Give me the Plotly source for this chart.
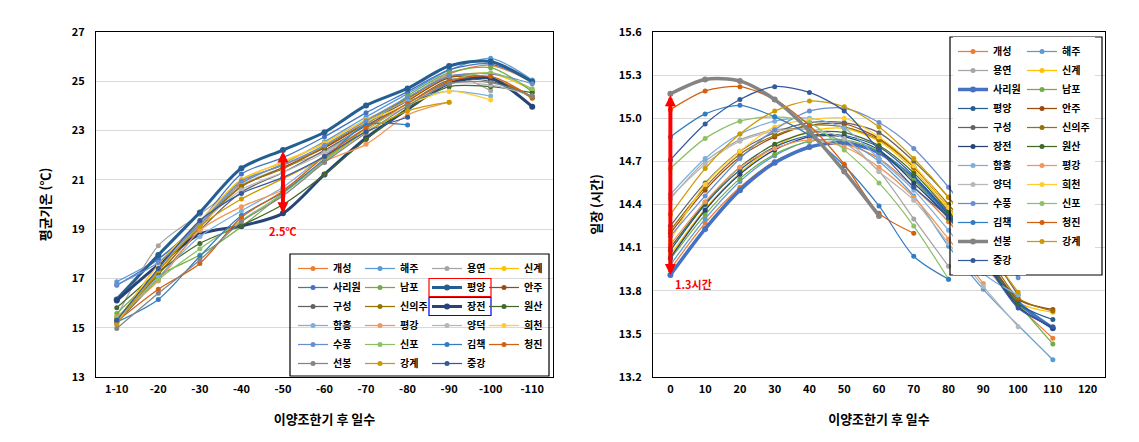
import plotly.graph_objects as go

# ---------------- data ----------------
stations = ['개성', '해주', '용연', '신계', '사리원', '남포', '평양', '안주', '구성', '신의주', '장전', '원산',
            '함흥', '평강', '양덕', '희천', '수풍', '신포', '김책', '청진', '선봉', '강계', '중강']
colors = ['#ED7D31', '#5B9BD5', '#A5A5A5', '#FFC000', '#4472C4', '#70AD47', '#255E91', '#9E480E',
          '#636363', '#997300', '#264478', '#43682B', '#7CAFDD', '#F1975A', '#B7B7B7', '#FFCD33',
          '#698ED0', '#8CC168', '#327DC2', '#D26012', '#848484', '#CC9A00', '#335AA1']

temp_categories = ['1-10', '-20', '-30', '-40', '-50', '-60', '-70', '-80', '-90', '-100', '-110']

temp_gaeseong = [15.35, 17.2, 19.05, 20.9, 21.6, 22.3, 23.3, 24.3, 25.3, 25.65, 24.95]
temp_haeju = [16.87, 17.8, 19.2, 20.85, 21.65, 22.55, 23.55, 24.5, 25.45, 25.93, 25.05]
temp_yongyeon = [15.45, 18.33, 19.6, 20.8, 21.5, 22.15, 23.25, 24.3, 25.25, 24.62, None]
temp_singye = [15.25, 17.58, 19.3, 21.02, 21.7, 22.5, 23.45, 24.25, 25.15, 25.32, 24.65]
temp_sariwon = [16.72, 17.78, 19.3, 21.24, 21.9, 22.75, 23.72, 24.58, 25.46, 25.7, 25.0]
temp_nampo = [15.58, 17.1, 17.95, 19.1, 20.45, 21.8, 23.1, 24.4, 25.35, 25.55, 24.58]
temp_pyongyang = [16.15, 17.95, 19.68, 21.47, 22.21, 22.93, 24.02, 24.71, 25.62, 25.8, 24.98]
temp_anju = [15.35, 17.3, 19.15, 20.72, 21.5, 22.3, 23.3, 24.2, 25.15, 25.1, 24.35]
temp_guseong = [15.2, 17.0, 18.95, 20.5, 21.3, 22.2, 23.2, 24.1, 25.05, 25.0, 24.38]
temp_sinuiju = [15.3, 17.15, 19.1, 20.75, 21.45, 22.35, 23.35, 24.3, 25.2, 25.15, 24.31]
temp_jangjeon = [16.1, 17.55, 18.8, 19.13, 19.64, 21.22, 22.7, 23.87, 24.92, 25.12, 23.97]
temp_wonsan = [15.81, 17.25, 18.42, 19.15, 20.0, 21.22, 22.64, 23.9, 24.78, 24.78, 24.54]
temp_hamheung = [15.3, 17.05, 18.7, 19.74, 20.7, 22.0, 23.3, 24.2, 24.6, 24.4, None]
temp_pyeonggang = [15.45, 16.9, 18.95, 19.91, 20.6, 21.74, 22.44, 23.63, 24.15, None, None]
temp_yangdeok = [15.1, 17.4, 19.15, 20.6, 21.3, 22.1, 23.1, 24.0, 24.9, 24.85, 24.4]
temp_huicheon = [15.2, 17.55, 19.35, 20.95, 21.75, 22.45, 23.35, 24.05, 24.6, 24.24, None]
temp_supung = [16.75, 17.65, 19.2, 20.95, 21.6, 22.4, 23.4, 24.35, 25.2, 25.3, 24.9]
temp_sinpo = [15.4, 16.95, 18.2, 19.35, 20.45, 21.75, 23.0, 24.1, 25.0, 25.35, 24.7]
temp_gimchaek = [15.23, 16.15, 17.9, 19.55, 20.5, 21.85, 23.23, 23.23, None, None, None]
temp_cheongjin = [15.25, 16.56, 17.61, 19.48, 20.55, 21.95, 23.1, 24.1, 25.0, 25.2, 24.35]
temp_seonbong = [14.97, 16.4, 17.75, 19.3, 20.35, 21.7, 22.9, 24.0, 24.9, 24.95, 24.4]
temp_ganggye = [15.15, 17.3, 19.1, 20.22, 21.05, 21.9, 22.95, 23.8, 24.15, None, None]
temp_junggang = [15.3, 17.4, 19.35, 20.45, 21.1, 21.95, 22.95, 23.54, None, None, None]

day_x = [0, 10, 20, 30, 40, 50, 60, 70, 80, 90, 100, 110]

day_gaeseong = [13.95, 14.27, 14.52, 14.70, 14.80, 14.82, 14.72, 14.52, 14.28, 13.99, 13.70, 13.47]
day_haeju = [13.98, 14.30, 14.56, 14.74, 14.84, 14.84, 14.70, 14.46, 14.11, 13.81, None, 13.32]
day_yongyeon = [14.44, 14.70, 14.85, 14.92, 14.92, 14.83, 14.63, 14.30, 13.97, None, None, None]
day_singye = [14.05, 14.37, 14.62, 14.80, 14.91, 14.93, 14.84, 14.64, 14.36, 14.05, 13.72, 13.65]
day_sariwon = [13.91, 14.23, 14.50, 14.69, 14.80, 14.83, 14.76, 14.58, 14.33, 14.03, 13.72, 13.54]
day_nampo = [14.02, 14.33, 14.58, 14.75, 14.84, 14.85, 14.77, 14.57, 14.30, 14.02, 13.71, 13.43]
day_pyongyang = [14.08, 14.40, 14.64, 14.80, 14.88, 14.88, 14.80, 14.60, 14.33, 14.03, 13.71, 13.60]
day_anju = [14.20, 14.50, 14.73, 14.87, 14.95, 14.96, 14.86, 14.66, 14.38, 14.07, 13.74, 13.67]
day_guseong = [14.25, 14.55, 14.77, 14.90, 14.97, 14.97, 14.90, 14.70, 14.45, 14.13, 13.77, None]
day_sinuiju = [14.22, 14.52, 14.75, 14.88, 14.95, 14.94, 14.85, 14.66, 14.40, 14.10, 13.75, 13.66]
day_jangjeon = [14.03, 14.36, 14.61, 14.78, 14.87, 14.87, 14.78, 14.55, 14.31, 14.02, 13.69, 13.54]
day_wonsan = [14.10, 14.41, 14.66, 14.82, 14.90, 14.90, 14.81, 14.62, 14.35, 14.04, 13.70, None]
day_hamheung = [14.47, 14.72, 14.89, 14.98, 15.00, 14.93, 14.72, 14.50, 14.22, 13.92, 13.77, None]
day_pyeonggang = [14.12, 14.42, 14.66, 14.79, 14.85, 14.80, 14.66, 14.45, 14.16, 13.85, None, None]
day_yangdeok = [14.45, 14.68, 14.84, 14.91, 14.92, 14.86, 14.63, 14.43, 14.13, 13.83, 13.55, None]
day_huicheon = [14.15, 14.54, 14.77, 14.94, 14.99, 15.00, 14.87, 14.67, 14.38, 14.05, 13.97, None]
day_supung = [14.18, 14.46, 14.72, 14.92, 15.05, 15.07, 14.97, 14.79, 14.52, 14.20, 13.89, None]
day_sinpo = [14.65, 14.86, 14.98, 15.01, 14.97, 14.78, 14.55, 14.25, 13.88, None, None, None]
day_gimchaek = [14.87, 15.03, 15.09, 15.01, 14.88, 14.67, 14.39, 14.04, 13.88, None, None, None]
day_cheongjin = [15.06, 15.19, 15.22, 15.13, 14.95, 14.68, 14.34, 14.20, None, None, None, None]
day_seonbong = [15.17, 15.27, 15.26, 15.13, 14.91, 14.63, 14.32, None, None, None, None, None]
day_ganggye = [14.33, 14.65, 14.89, 15.05, 15.12, 15.08, 14.94, 14.72, 14.45, 14.12, 13.79, None]
day_junggang = [14.71, 14.96, 15.13, 15.22, 15.18, 15.05, 14.78, 14.52, 14.31, 14.02, 13.68, 13.55]

temp_series = [temp_gaeseong, temp_haeju, temp_yongyeon, temp_singye, temp_sariwon, temp_nampo,
               temp_pyongyang, temp_anju, temp_guseong, temp_sinuiju, temp_jangjeon, temp_wonsan,
               temp_hamheung, temp_pyeonggang, temp_yangdeok, temp_huicheon, temp_supung, temp_sinpo,
               temp_gimchaek, temp_cheongjin, temp_seonbong, temp_ganggye, temp_junggang]
day_series = [day_gaeseong, day_haeju, day_yongyeon, day_singye, day_sariwon, day_nampo,
              day_pyongyang, day_anju, day_guseong, day_sinuiju, day_jangjeon, day_wonsan,
              day_hamheung, day_pyeonggang, day_yangdeok, day_huicheon, day_supung, day_sinpo,
              day_gimchaek, day_cheongjin, day_seonbong, day_ganggye, day_junggang]

thick_left = ['평양', '장전']
thick_right = ['사리원', '선봉']

# annotation values
temp_gap_top = 22.21
temp_gap_bottom = 19.64
day_gap_top = 15.17
day_gap_bottom = 13.91

# ---------------- layout helpers ----------------
OFF = 8                      # default page body margin
W, H = 1139 - OFF, 442 - OFF
ML, MT = 96 - OFF, 32 - OFF
MR = W - (1105 - OFF)
MB = H - (377 - OFF)
GW, GH = W - ML - MR, H - MT - MB


def px(xp):
    """page x pixel -> paper fraction"""
    return (xp - OFF - ML) / GW


def py(yp):
    """page y pixel -> paper fraction"""
    return (H - MB - (yp - OFF)) / GH


FONT = 'Noto Sans CJK KR, Noto Sans, sans-serif'

fig = go.Figure()

left_legends = ['legend', 'legend2', 'legend3', 'legend4']
right_legends = ['legend5', 'legend6']

for i, name in enumerate(stations):
    thick = name in thick_left
    fig.add_trace(go.Scatter(
        x=temp_categories, y=temp_series[i], name=name, mode='lines+markers',
        line=dict(color=colors[i], width=3 if thick else 1.25, shape='spline', smoothing=0.8),
        marker=dict(color=colors[i], size=6 if thick else 5),
        connectgaps=True, xaxis='x', yaxis='y', legend=left_legends[i % 4]))

for i, name in enumerate(stations):
    thick = name in thick_right
    fig.add_trace(go.Scatter(
        x=day_x, y=day_series[i], name=name, mode='lines+markers',
        line=dict(color=colors[i], width=3.5 if thick else 1.25, shape='spline', smoothing=0.8),
        marker=dict(color=colors[i], size=6 if thick else 5),
        connectgaps=True, xaxis='x2', yaxis='y2', legend=right_legends[i % 2]))

tickfont = dict(family=FONT, size=11, color='black', weight='bold')
titlefont = dict(family=FONT, size=13, color='black', weight='bold')

axis_common = dict(showline=True, linecolor='black', linewidth=1, mirror=True, ticks='',
                   tickfont=tickfont, zeroline=False)

layout = dict(
    width=W, height=H,
    margin=dict(l=ML, r=MR, t=MT, b=MB, autoexpand=False),
    paper_bgcolor='white', plot_bgcolor='white',
    xaxis=dict(domain=[0, px(553)], type='category', categoryorder='array',
               categoryarray=temp_categories, range=[-0.5, 10.5], showgrid=False,
               ticklabelstandoff=2,
               title=dict(text='이양조한기 후 일수', font=titlefont, standoff=19), **axis_common),
    yaxis=dict(domain=[0, 1], range=[13, 27], dtick=2, tick0=13, showgrid=True, gridcolor='#D9D9D9',
               ticklabelstandoff=8,
               title=dict(text='평균기온 (℃)', font=titlefont, standoff=18), **axis_common),
    xaxis2=dict(domain=[px(653), 1], range=[-5, 125], dtick=10, tick0=0, showgrid=False,
                anchor='y2', ticklabelstandoff=2,
                title=dict(text='이양조한기 후 일수', font=titlefont, standoff=19), **axis_common),
    yaxis2=dict(domain=[0, 1], range=[13.2, 15.6], dtick=0.3, tick0=13.2, tickformat='.1f',
                showgrid=True, gridcolor='#D9D9D9', anchor='x2', ticklabelstandoff=8,
                title=dict(text='일장 (시간)', font=titlefont, standoff=14), **axis_common),
    showlegend=True,
)

legfont = dict(family=FONT, size=10, color='black', weight='bold')
left_top = 254
left_cols = [293, 360, 427, 484]
for k, lg in enumerate(left_legends):
    layout[lg] = dict(x=px(left_cols[k]), y=py(left_top), xanchor='left', yanchor='top',
                      orientation='v', bgcolor='rgba(255,255,255,0)', borderwidth=0,
                      font=legfont, itemwidth=30, tracegroupgap=0, itemclick=False)
right_top = 37
right_cols = [953, 1022]
for k, lg in enumerate(right_legends):
    layout[lg] = dict(x=px(right_cols[k]), y=py(right_top), xanchor='left', yanchor='top',
                      orientation='v', bgcolor='white', borderwidth=0,
                      font=legfont, itemwidth=30, tracegroupgap=0, itemclick=False)

row_h = 19
first = 14.5


def rect(x0, y0, x1, y1, color, width=1):
    return dict(type='rect', xref='paper', yref='paper', x0=px(x0), x1=px(x1), y0=py(y0), y1=py(y1),
                line=dict(color=color, width=width), fillcolor='rgba(0,0,0,0)', layer='above')


shapes = [
    rect(290, left_top, 549, left_top + 6 * row_h + 8, 'black', 1.2),
    rect(950, right_top, 1102, right_top + 12 * row_h + 10, 'black', 1.2),
]


def hl(col_left, row, nchar, top, color):
    cy = top + first + row * row_h
    return rect(col_left + 2, cy - 9, col_left + 44 + nchar * 10, cy + 9, color, 1.2)


shapes.append(hl(left_cols[2], 1, 2, left_top, 'red'))
shapes.append(hl(left_cols[2], 2, 2, left_top, 'blue'))
shapes.append(hl(right_cols[0], 2, 3, right_top, 'blue'))
shapes.append(hl(right_cols[0], 10, 2, right_top, 'red'))
layout['shapes'] = shapes

annots = [
    dict(x=4, y=temp_gap_bottom, ax=4, ay=temp_gap_top, xref='x', yref='y', axref='x', ayref='y',
         showarrow=True, arrowhead=2, startarrowhead=2, arrowside='end+start', arrowwidth=4,
         arrowsize=0.55, startarrowsize=0.55, arrowcolor='#FF0000', text=''),
    dict(x=4, y=temp_gap_bottom - 0.7, xref='x', yref='y', showarrow=False, text='2.5℃',
         font=dict(family=FONT, size=11, color='#FF0000', weight='bold')),
    dict(x=0, y=day_gap_bottom, ax=0, ay=day_gap_top, xref='x2', yref='y2', axref='x2', ayref='y2',
         showarrow=True, arrowhead=2, startarrowhead=2, arrowside='end+start', arrowwidth=4,
         arrowsize=0.55, startarrowsize=0.55, arrowcolor='#FF0000', text=''),
    dict(x=6.7, y=day_gap_bottom - 0.06, xref='x2', yref='y2', showarrow=False, text='1.3시간',
         font=dict(family=FONT, size=11, color='#FF0000', weight='bold')),
]
layout['annotations'] = annots

fig.update_layout(**layout)
fig.write_html('out.html')
